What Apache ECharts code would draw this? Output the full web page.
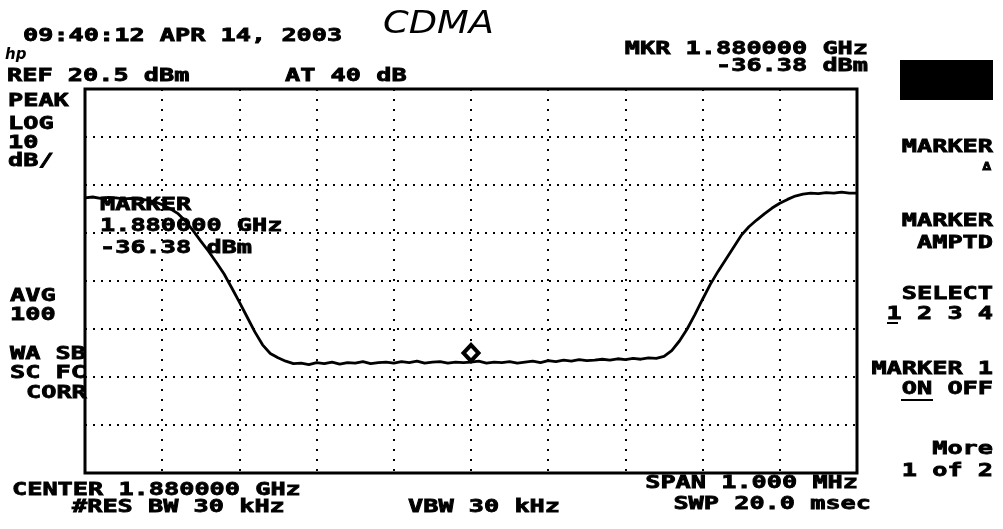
<!DOCTYPE html>
<html>
<head>
<meta charset="utf-8">
<title>CDMA spectrum</title>
<script src="https://cdn.jsdelivr.net/npm/echarts@6/dist/echarts.min.js"></script>
<style>
html, body { margin: 0; padding: 0; background: #fff; }
#chart { width: 1003px; height: 529px; }
</style>
</head>
<body>
<div id="chart"></div>
<script>
// sweep: center 1.880000 GHz, span 1 MHz, one reading every 10 kHz (x = offset from center, kHz)
const spanKHz = 1000
const stepKHz = 10
const refLevelDbm = 20.5
const dbPerDiv = 10
const vertDivs = 8

// trace, dBm, left edge to right edge
const traceDbm = [
  -2.2, -2.0, -2.3, -2.1, -2.2, -2.4, -2.3, -2.5, -2.6, -3.0,
  -3.6, -4.4, -5.4, -7.0, -9.0, -11.2, -13.3, -15.6, -18.0, -20.9,
  -23.9, -27.0, -30.1, -32.8, -34.6, -35.5, -36.2, -36.7, -36.6, -36.9,
  -36.5, -36.7, -36.4, -36.8, -36.5, -36.6, -36.3, -36.7, -36.5, -36.4,
  -36.6, -36.3, -36.5, -36.2, -36.6, -36.4, -36.3, -36.6, -36.4, -36.5,
  -36.38, -36.2, -36.6, -36.4, -36.5, -36.3, -36.6, -36.4, -36.2, -36.5,
  -36.1, -36.3, -36.0, -36.2, -35.9, -36.1, -36.0, -35.8, -36.0, -35.7,
  -35.9, -35.6, -35.8, -35.5, -35.6, -35.2, -34.0, -32.0, -29.5, -26.5,
  -23.3, -20.2, -17.5, -15.0, -12.5, -10.0, -8.2, -6.8, -5.5, -4.3,
  -3.3, -2.5, -1.8, -1.4, -1.2, -1.3, -1.1, -1.2, -1.0, -1.2,
  -1.2
]

const markerOffsetKHz = 0
const markerDbm = -36.38

// screen annotations: [text, x, middle y, align]
const annotations = [
  ['09:40:12 APR 14, 2003', 23, 36, 'left'],
  ['REF 20.5 dBm', 7, 76, 'left'],
  ['AT 40 dB', 285, 76, 'left'],
  ['MKR 1.880000 GHz', 868, 49, 'right'],
  ['-36.38 dBm', 868, 66, 'right'],
  ['PEAK', 8, 101, 'left'],
  ['LOG', 8, 124, 'left'],
  ['10', 8, 143, 'left'],
  ['dB/', 8, 161, 'left'],
  ['AVG', 10, 296, 'left'],
  ['100', 10, 315, 'left'],
  ['WA SB', 10, 354, 'left'],
  ['SC FC', 10, 373, 'left'],
  ['CORR', 26, 393, 'left'],
  ['MARKER', 100, 205, 'left'],
  ['1.880000 GHz', 100, 226, 'left'],
  ['-36.38 dBm', 100, 248, 'left'],
  ['CENTER 1.880000 GHz', 12, 490, 'left'],
  ['#RES BW 30 kHz', 72, 507, 'left'],
  ['VBW 30 kHz', 408, 507, 'left'],
  ['SPAN 1.000 MHz', 858, 483, 'right'],
  ['SWP 20.0 msec', 871, 504, 'right']
]

// soft key labels on the right
const softKeys = [
  ['MARKER', 147], ['MARKER', 221], ['AMPTD', 243], ['SELECT', 294],
  ['1 2 3 4', 314], ['MARKER 1', 369], ['ON OFF', 389], ['More', 449], ['1 of 2', 471]
]

const FONT_PX = 18
const PITCH = 15.2
const stretch = PITCH / (FONT_PX * 0.602)

function monoText(text, x, y, align) {
  return {
    type: 'text',
    x: x,
    y: y,
    scaleX: stretch,
    z: 50,
    style: {
      text: text,
      font: 'bold ' + FONT_PX + 'px "DejaVu Sans Mono"',
      fill: '#000',
      stroke: '#000',
      lineWidth: 0.8,
      align: align,
      verticalAlign: 'middle'
    }
  }
}

const freqData = traceDbm.map((v, i) => [-spanKHz / 2 + i * stepKHz, v])

const graphics = annotations.map((a) => monoText(a[0], a[1], a[2], a[3]))
softKeys.forEach((k) => graphics.push(monoText(k[0], 993, k[1], 'right')))

graphics.push(
  {
    type: 'text', x: 991, y: 167, z: 50,
    style: { text: '\u0394', font: 'bold 11px "DejaVu Sans"', fill: '#000', stroke: '#000', lineWidth: 1, align: 'right', verticalAlign: 'middle' }
  },
  {
    type: 'text', x: 383, y: 25, z: 50, scaleX: 1.15,
    style: { text: 'CDMA', font: 'italic 200 32px "DejaVu Sans"', fill: '#000', align: 'left', verticalAlign: 'middle' }
  },
  {
    type: 'text', x: 5, y: 55, z: 50,
    style: { text: 'hp', font: 'italic bold 15px "DejaVu Sans"', fill: '#000', align: 'left', verticalAlign: 'middle' }
  },
  { type: 'rect', z: 40, shape: { x: 900, y: 60, width: 93, height: 40 }, style: { fill: '#000' } },
  { type: 'line', z: 50, shape: { x1: 887, y1: 323, x2: 898, y2: 323 }, style: { stroke: '#000', lineWidth: 2 } },
  { type: 'line', z: 50, shape: { x1: 901, y1: 400, x2: 933, y2: 400 }, style: { stroke: '#000', lineWidth: 2 } }
)

const chart = echarts.init(document.getElementById('chart'))

chart.setOption({
  animation: false,
  backgroundColor: '#fff',
  grid: {
    left: 85,
    right: 146,
    top: 89,
    bottom: 56,
    show: true,
    borderColor: '#000',
    borderWidth: 3,
    z: 10
  },
  xAxis: {
    type: 'value',
    min: -spanKHz / 2,
    max: spanKHz / 2,
    interval: spanKHz / 10,
    axisLine: { show: false },
    axisTick: { show: false },
    axisLabel: { show: false },
    splitLine: {
      show: true,
      lineStyle: { color: '#000', width: 2, type: [2, 8] }
    }
  },
  yAxis: [
    {
      type: 'value',
      min: refLevelDbm - vertDivs * dbPerDiv,
      max: refLevelDbm,
      axisLine: { show: false },
      axisTick: { show: false },
      axisLabel: { show: false },
      splitLine: { show: false }
    },
    {
      // graticule: 8 divisions of 10 dB below the reference level
      type: 'value',
      min: 0,
      max: vertDivs,
      interval: 1,
      axisLine: { show: false },
      axisTick: { show: false },
      axisLabel: { show: false },
      splitLine: {
        show: true,
        lineStyle: { color: '#000', width: 2, type: [2, 6] }
      }
    }
  ],
  series: [
    {
      name: 'trace',
      type: 'line',
      yAxisIndex: 0,
      data: freqData,
      showSymbol: false,
      lineStyle: { color: '#000', width: 2.8 },
      z: 20
    },
    {
      name: 'marker',
      type: 'scatter',
      yAxisIndex: 0,
      data: [[markerOffsetKHz, markerDbm]],
      symbol: 'diamond',
      symbolSize: [15, 16],
      symbolOffset: [0, -9],
      itemStyle: { color: '#fff', borderColor: '#000', borderWidth: 4, opacity: 1 },
      z: 30
    }
  ],
  graphic: { elements: graphics }
})
</script>
</body>
</html>
